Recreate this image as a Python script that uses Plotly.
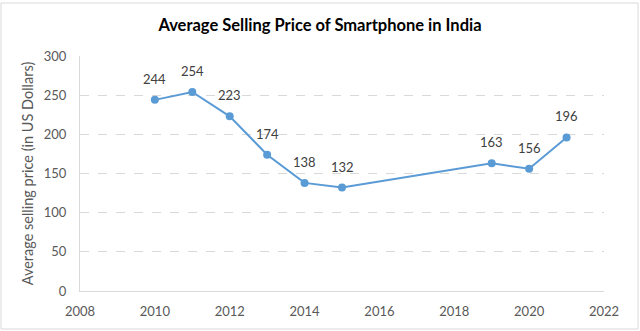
import plotly.graph_objects as go

years = [2010, 2011, 2012, 2013, 2014, 2015, 2019, 2020, 2021]
prices = [244, 254, 223, 174, 138, 132, 163, 156, 196]
labels = [str(p) for p in prices]

FONT = "Lato, Open Sans, sans-serif"

fig = go.Figure()
fig.add_trace(go.Scatter(
    x=years, y=prices, mode="lines+markers",
    line=dict(color="#5B9BD5", width=2),
    marker=dict(color="#5B9BD5", size=8),
    cliponaxis=False,
))
for x, y, t in zip(years, prices, labels):
    fig.add_annotation(x=x, y=y, text=t, showarrow=False, yshift=21,
                       font=dict(family=FONT, size=13, color="#404040"))

fig.update_layout(
    width=640, height=331,
    margin=dict(l=80, r=36, t=56, b=40),
    paper_bgcolor="white", plot_bgcolor="white",
    showlegend=False,
    title=dict(text="<b>Average Selling Price of Smartphone in India</b>",
               x=0.5, xanchor="center", y=0.925, yanchor="middle",
               font=dict(family=FONT, size=16.5, color="#000000")),
    font=dict(family=FONT, color="#595959", size=13),
)
fig.update_xaxes(range=[2008, 2022], tickvals=list(range(2008, 2023, 2)),
                 showgrid=False, showline=True, linecolor="#d9d9d9", linewidth=1,
                 zeroline=False, ticks="", ticklabelstandoff=8,
                 tickfont=dict(size=13, color="#595959"))
fig.update_yaxes(range=[0, 300], tickvals=list(range(0, 301, 50)),
                 showgrid=True, gridcolor="#d9d9d9", griddash="dash", gridwidth=1,
                 showline=True, linecolor="#d9d9d9", linewidth=1,
                 zeroline=False, ticks="", ticklabelstandoff=10,
                 tickfont=dict(size=13, color="#595959"),
                 title=dict(text="Average selling price (in US Dollars)", standoff=6,
                            font=dict(size=14.5, color="#595959")))
fig.add_shape(type="rect", xref="paper", yref="paper",
              x0=-79/524, x1=1+34/524, y0=-38/235, y1=1+53/235,
              line=dict(color="#d9d9d9", width=1))
fig.write_html("out.html")
